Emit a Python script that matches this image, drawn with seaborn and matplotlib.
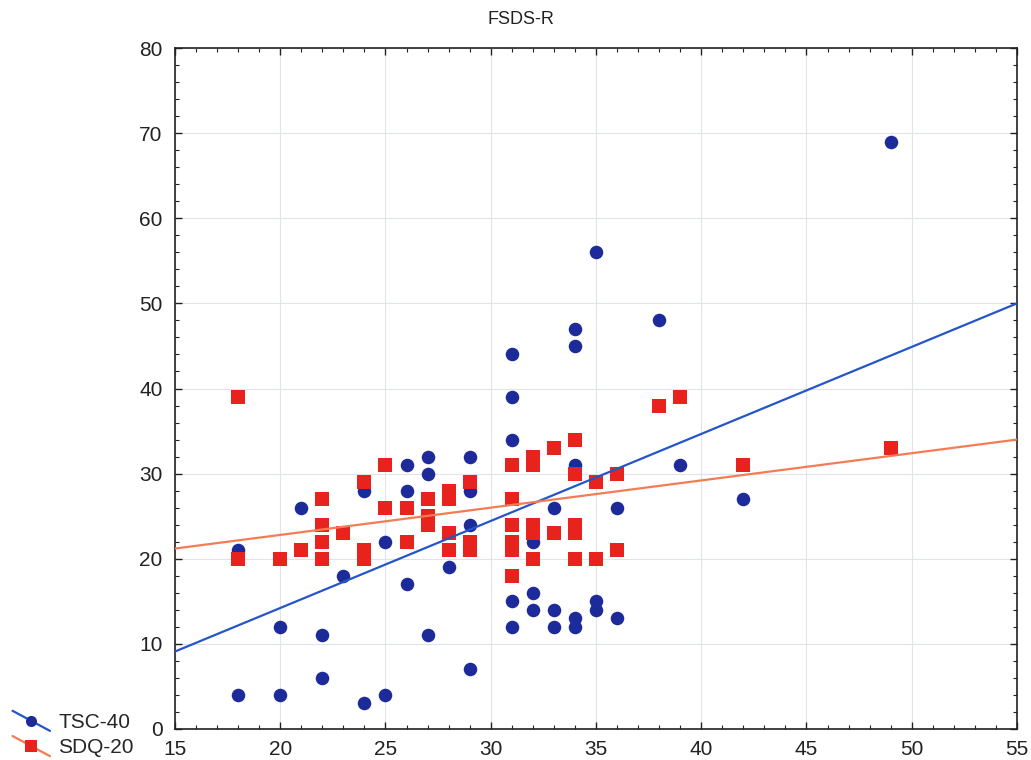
import numpy as np
import pandas as pd
import seaborn as sns
from matplotlib import pyplot as plt
from matplotlib.lines import Line2D
from matplotlib.legend_handler import HandlerLine2D
from matplotlib.ticker import MultipleLocator

# FSDS-R scores (x) with TSC-40 scores (blue circles)
tsc_x = [18, 18, 20, 20, 21, 22, 22, 23, 24, 24, 25, 25, 26, 26, 26,
         27, 27, 27, 28, 29, 29, 29, 29, 31, 31, 31, 31, 31, 32, 32, 32,
         33, 33, 33, 34, 34, 34, 34, 34, 35, 35, 35, 36, 36, 38, 39, 42, 49]
tsc_y = [21, 4, 12, 4, 26, 11, 6, 18, 28, 3, 22, 4, 31, 28, 17,
         32, 30, 11, 19, 32, 28, 24, 7, 44, 39, 34, 15, 12, 22, 16, 14,
         26, 14, 12, 47, 45, 31, 13, 12, 56, 15, 14, 26, 13, 48, 31, 27, 69]

# FSDS-R scores (x) with SDQ-20 scores (red squares)
sdq_x = [18, 18, 20, 21, 22, 22, 22, 22, 23, 24, 24, 24, 25, 25, 26, 26,
         27, 27, 27, 28, 28, 28, 28, 29, 29, 29, 31, 31, 31, 31, 31, 31,
         32, 32, 32, 32, 32, 33, 33, 34, 34, 34, 34, 34, 35, 35, 36, 36,
         38, 39, 42, 49]
sdq_y = [39, 20, 20, 21, 27, 24, 22, 20, 23, 29, 21, 20, 31, 26, 26, 22,
         27, 25, 24, 28, 27, 23, 21, 29, 22, 21, 31, 27, 24, 22, 21, 18,
         32, 31, 24, 23, 20, 33, 23, 34, 30, 24, 23, 20, 29, 20, 30, 21,
         38, 39, 31, 33]

# fitted lines (value at x = 15 and x = 55)
fit_x = [15, 55]
tsc_fit = [9.1, 50.0]
sdq_fit = [21.2, 34.0]

tsc = pd.DataFrame({'FSDS-R': tsc_x, 'score': tsc_y})
sdq = pd.DataFrame({'FSDS-R': sdq_x, 'score': sdq_y})

dot_blue = '#1c2a9a'
line_blue = '#2456c8'
sq_red = '#e8221c'
line_red = '#f47c55'

sns.set_style('white')
plt.rcParams['font.family'] = ['Liberation Sans', 'DejaVu Sans']

fig = plt.figure(figsize=(10.31, 7.6), dpi=100)
ax = fig.add_axes([0.1697, 0.0408, 0.8167, 0.896])

sns.scatterplot(data=tsc, x='FSDS-R', y='score', ax=ax, color=dot_blue,
                marker='o', s=95, linewidth=0, zorder=3)
sns.scatterplot(data=sdq, x='FSDS-R', y='score', ax=ax, color=sq_red,
                marker='s', s=95, linewidth=0, zorder=3)
sns.lineplot(x=fit_x, y=tsc_fit, ax=ax, color=line_blue, lw=1.6, zorder=4)
sns.lineplot(x=fit_x, y=sdq_fit, ax=ax, color=line_red, lw=1.6, zorder=4)

ax.set_xlim(15, 55)
ax.set_ylim(0, 80)
ax.set_xlabel('')
ax.set_ylabel('')
ax.xaxis.set_major_locator(MultipleLocator(5))
ax.xaxis.set_minor_locator(MultipleLocator(1))
ax.yaxis.set_major_locator(MultipleLocator(10))
ax.yaxis.set_minor_locator(MultipleLocator(2))
ax.tick_params(which='both', direction='in', top=True, right=True,
               bottom=True, left=True, colors='#222222', labelcolor='#222222')
ax.tick_params(which='major', length=5, width=1, labelsize=15)
ax.tick_params(which='minor', length=3, width=0.8)
ax.tick_params(axis='x', which='major', pad=8)
ax.tick_params(axis='y', which='major', pad=9)
ax.grid(True, which='major', color='#dfe3ea', lw=0.8)
ax.set_axisbelow(True)
for sp in ax.spines.values():
    sp.set_color('#222222')
    sp.set_linewidth(1.2)

fig.text(0.505, 0.975, 'FSDS-R', ha='center', va='center', fontsize=13,
         color='#222222')


class DiagHandler(HandlerLine2D):
    def create_artists(self, legend, orig_handle, xdescent, ydescent,
                       width, height, fontsize, trans):
        x0, x1 = -xdescent, width - xdescent
        y0, y1 = height - ydescent + 2, -ydescent - 2
        seg = Line2D([x0, x1], [y0, y1], color=orig_handle.get_color(), lw=1.6)
        mk = Line2D([(x0 + x1) / 2], [(y0 + y1) / 2],
                    marker=orig_handle.get_marker(), markersize=8,
                    markerfacecolor=orig_handle.get_markerfacecolor(),
                    markeredgewidth=0, linestyle='none')
        seg.set_transform(trans)
        mk.set_transform(trans)
        return [seg, mk]


handles = [
    Line2D([], [], color=line_blue, marker='o', markerfacecolor=dot_blue),
    Line2D([], [], color=line_red, marker='s', markerfacecolor=sq_red),
]
fig.legend(handles, ['TSC-40', 'SDQ-20'], loc='lower left',
           bbox_to_anchor=(0.0, -0.013), frameon=False, fontsize=15,
           handlelength=1.8, handletextpad=0.4, labelspacing=0.3,
           borderaxespad=0.3, borderpad=0.3,
           handler_map={Line2D: DiagHandler()})

fig.savefig('out.png', dpi=100, facecolor='white')
